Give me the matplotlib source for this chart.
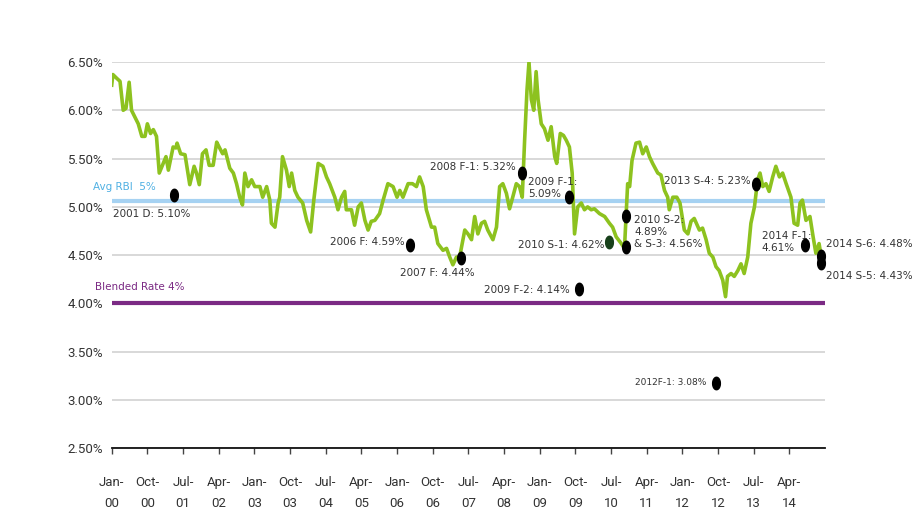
import numpy as np
import matplotlib
matplotlib.use("Agg")
import matplotlib.pyplot as plt
from matplotlib.path import Path

# months since Jan-2000 and the rate (%)
rate_month = [
    0.0, 0.3, 1.3, 2.1, 2.9, 3.6, 4.4, 5.0, 6.7, 7.6, 8.4, 9.0, 9.8, 10.5, 11.3,
    12.0, 13.0, 13.7, 14.3, 15.5, 16.2, 16.5, 17.4, 18.5, 19.7, 20.8, 21.4, 22.1,
    22.9, 23.8, 24.6, 25.6, 26.5, 27.1, 28.0, 28.6, 29.8, 30.7, 31.5, 32.3, 33.0,
    33.6, 34.4, 35.3, 36.1, 37.4, 38.1, 39.1, 39.9, 40.3, 41.2, 42.0, 42.4, 43.1,
    44.1, 44.8, 45.4, 46.2, 47.0, 48.2, 49.2, 50.2, 51.0, 52.1, 53.3, 54.2, 55.0,
    56.3, 57.1, 58.0, 58.8, 59.2, 60.5, 61.3, 62.2, 63.0, 63.9, 64.7, 65.5, 66.4,
    67.6, 68.5, 69.7, 71.0, 72.0, 72.7, 73.5, 74.8, 75.9, 76.9, 77.7, 78.6, 79.4,
    80.7, 81.5, 82.3, 83.6, 84.5, 85.3, 86.1, 87.0, 87.8, 89.1, 89.9, 90.8, 91.6,
    92.4, 93.3, 94.1, 94.9, 96.2, 97.1, 97.9, 98.7, 99.6, 100.4, 101.2, 102.1,
    102.9, 103.6, 104.2, 104.8, 105.3, 105.9, 106.5, 107.1, 107.6, 108.4, 109.2,
    110.1, 110.9, 111.8, 112.3, 113.2, 114.0, 114.7, 115.5, 116.2, 116.8, 117.6,
    118.5, 119.3, 120.1, 121.0, 121.8, 123.1, 124.4, 125.6, 126.4, 127.3, 128.6,
    129.4, 130.2, 130.7, 131.3, 132.3, 133.2, 134.0, 134.9, 135.7, 136.5, 137.8,
    138.6, 139.5, 140.3, 140.7, 141.6, 142.6, 143.4, 144.5, 145.4, 146.2, 147.0,
    148.3, 149.1, 150.0, 150.8, 151.7, 152.5, 153.3, 154.2, 154.9, 155.4, 156.3,
    157.1, 158.0, 158.8, 159.6, 160.5, 161.3, 162.2, 163.0, 163.6, 164.3, 165.1,
    165.9, 166.8, 167.6, 168.5, 169.3, 170.2, 171.4, 172.2, 173.1, 173.7, 174.3,
    175.2, 176.2, 177.0, 177.7, 178.5, 179.2,
]
rate_value = [
    6.26, 6.37, 6.33, 6.30, 6.00, 6.02, 6.29, 6.00, 5.86, 5.73, 5.73, 5.86, 5.76,
    5.80, 5.73, 5.35, 5.45, 5.52, 5.38, 5.62, 5.61, 5.66, 5.55, 5.54, 5.23, 5.42,
    5.35, 5.23, 5.55, 5.59, 5.43, 5.43, 5.67, 5.62, 5.55, 5.59, 5.40, 5.35, 5.24,
    5.10, 5.02, 5.35, 5.21, 5.28, 5.21, 5.21, 5.10, 5.21, 5.07, 4.83, 4.79, 5.04,
    5.10, 5.52, 5.38, 5.21, 5.35, 5.17, 5.10, 5.04, 4.86, 4.74, 5.07, 5.45, 5.42,
    5.31, 5.24, 5.10, 4.97, 5.10, 5.16, 4.97, 4.97, 4.81, 5.00, 5.04, 4.86, 4.76,
    4.85, 4.86, 4.93, 5.07, 5.24, 5.21, 5.10, 5.17, 5.10, 5.24, 5.24, 5.21, 5.31,
    5.21, 4.97, 4.79, 4.79, 4.62, 4.55, 4.57, 4.48, 4.40, 4.48, 4.48, 4.76, 4.72,
    4.66, 4.90, 4.72, 4.83, 4.85, 4.76, 4.66, 4.79, 5.21, 5.24, 5.14, 4.98, 5.10,
    5.24, 5.21, 5.10, 5.69, 6.21, 6.50, 6.11, 6.00, 6.40, 6.11, 5.86, 5.81, 5.69,
    5.83, 5.52, 5.45, 5.76, 5.74, 5.69, 5.62, 5.35, 4.72, 5.00, 5.04, 4.97, 5.00,
    4.97, 4.98, 4.93, 4.90, 4.83, 4.79, 4.69, 4.62, 4.57, 5.24, 5.21, 5.48, 5.66,
    5.67, 5.55, 5.62, 5.52, 5.45, 5.35, 5.33, 5.17, 5.10, 4.97, 5.10, 5.10, 5.04,
    4.76, 4.72, 4.85, 4.88, 4.76, 4.78, 4.66, 4.52, 4.48, 4.38, 4.34, 4.24, 4.07,
    4.28, 4.31, 4.28, 4.34, 4.41, 4.31, 4.48, 4.83, 5.00, 5.28, 5.35, 5.21, 5.24,
    5.16, 5.31, 5.42, 5.31, 5.35, 5.24, 5.10, 4.83, 4.81, 5.04, 5.07, 4.86, 4.90,
    4.69, 4.52, 4.62, 4.45,
]

# bond offerings
offering_label = [
    "2001 D: 5.10%", "2006 F: 4.59%", "2007 F: 4.44%", "2008 F-1: 5.32%",
    "2009 F-1:\n5.09%", "2009 F-2: 4.14%", "2010 S-1: 4.62%",
    "2010 S-2:\n4.89%\n& S-3: 4.56%", "", "2012F-1: 3.08%", "2013 S-4: 5.23%",
    "2014 F-1:\n4.61%", "2014 S-6: 4.48%", "2014 S-5: 4.43%",
]
offering_month = [15.7, 75.4, 88.2, 103.6, 115.4, 117.9, 125.6, 129.8, 129.8,
                  152.5, 162.6, 174.9, 179.0, 179.0]
offering_rate = [5.12, 4.61, 4.47, 5.35, 5.10, 4.15, 4.64, 4.91, 4.58,
                 3.18, 5.24, 4.61, 4.49, 4.42]

avg_rbi = 5.06
blended_rate = 4.00

y_ticks = [2.5, 3.0, 3.5, 4.0, 4.5, 5.0, 5.5, 6.0, 6.5]
x_tick_labels = ["Jan-\n00", "Oct-\n00", "Jul-\n01", "Apr-\n02", "Jan-\n03",
                 "Oct-\n03", "Jul-\n04", "Apr-\n05", "Jan-\n06", "Oct-\n06",
                 "Jul-\n07", "Apr-\n08", "Jan-\n09", "Oct-\n09", "Jul-\n10",
                 "Apr-\n11", "Jan-\n12", "Oct-\n12", "Jul-\n13", "Apr-\n14"]

# label placement (pixel offsets from the marker), ha, va
label_layout = [
    (-61, -19, "left", "center"), (-6, 3, "right", "center"),
    (-61, -15, "left", "center"), (-6, 6, "right", "center"),
    (-41, 9, "left", "center"), (-9, -1, "right", "center"),
    (-5, -3, "right", "center"), (8, -16, "left", "center"),
    (0, 0, "left", "center"), (-10, 0, "right", "center"),
    (-5, 3, "right", "center"), (-43, 3, "left", "center"),
    (5, 12, "left", "center"), (5, -13, "left", "center"),
]

GREEN = "#8dc21f"
BLUE = "#a6d2f2"
PURPLE = "#7b2a84"
TEXT = "#333333"
TICKFONT = ["Roboto", "DejaVu Sans"]

t = np.linspace(0, 2 * np.pi, 41)
ellipse = Path(np.column_stack([0.62 * np.cos(t), np.sin(t)]))

fig = plt.figure(figsize=(9.2, 5.18), dpi=100)
ax = fig.add_axes([111.7 / 920, 1 - 448.3 / 518, 713.3 / 920, 386.3 / 518])

ax.set_xlim(0, 180)
ax.set_ylim(2.5, 6.5)
ax.set_yticks(y_ticks)
ax.set_yticklabels([f"{v:.2f}%" for v in y_ticks], family=TICKFONT,
                   fontsize=9.5, color=TEXT)
ax.set_xticks(np.arange(len(x_tick_labels)) * 9)
ax.set_xticklabels(x_tick_labels, family=TICKFONT, fontsize=9.5, color=TEXT,
                   linespacing=1.75)
ax.tick_params(axis="y", length=0, pad=6)
ax.tick_params(axis="x", length=4, width=1, color="#444444", pad=16)
ax.yaxis.grid(True, color="#d6d6d6", linewidth=1.3)
ax.set_axisbelow(True)
for side in ("top", "right", "left"):
    ax.spines[side].set_visible(False)
ax.spines["bottom"].set_linewidth(1.3)
ax.spines["bottom"].set_color("#111111")

ax.axhline(avg_rbi, color=BLUE, linewidth=3, zorder=2)
ax.axhline(blended_rate, color=PURPLE, linewidth=3, zorder=2)
ax.annotate("Avg RBI  5%", xy=(0, avg_rbi), xytext=(-19, 14),
            textcoords="offset pixels", ha="left", va="center",
            fontsize=7.5, color="#4fb0e3", annotation_clip=False)
ax.annotate("Blended Rate 4%", xy=(0, blended_rate), xytext=(-17, 16),
            textcoords="offset pixels", ha="left", va="center",
            fontsize=7.5, color=PURPLE, annotation_clip=False)

ax.plot(rate_month, rate_value, color=GREEN, linewidth=2.6, zorder=3,
        solid_joinstyle="round")

for i, (lab, m, r) in enumerate(zip(offering_label, offering_month, offering_rate)):
    col = "#17401a" if lab.startswith("2010 S-1") else "black"
    ax.plot(m, r, marker=ellipse, markersize=9, color=col, linestyle="none",
            zorder=4, clip_on=False)
    if not lab:
        continue
    dx, dy, ha, va = label_layout[i]
    ax.annotate(lab, xy=(m, r), xytext=(dx, dy), textcoords="offset pixels",
                ha=ha, va=va, fontsize=6.5 if lab.startswith("2012") else 7.5,
                color=TEXT, linespacing=1.25, annotation_clip=False)

fig.savefig("out.png", dpi=100, facecolor="white")
